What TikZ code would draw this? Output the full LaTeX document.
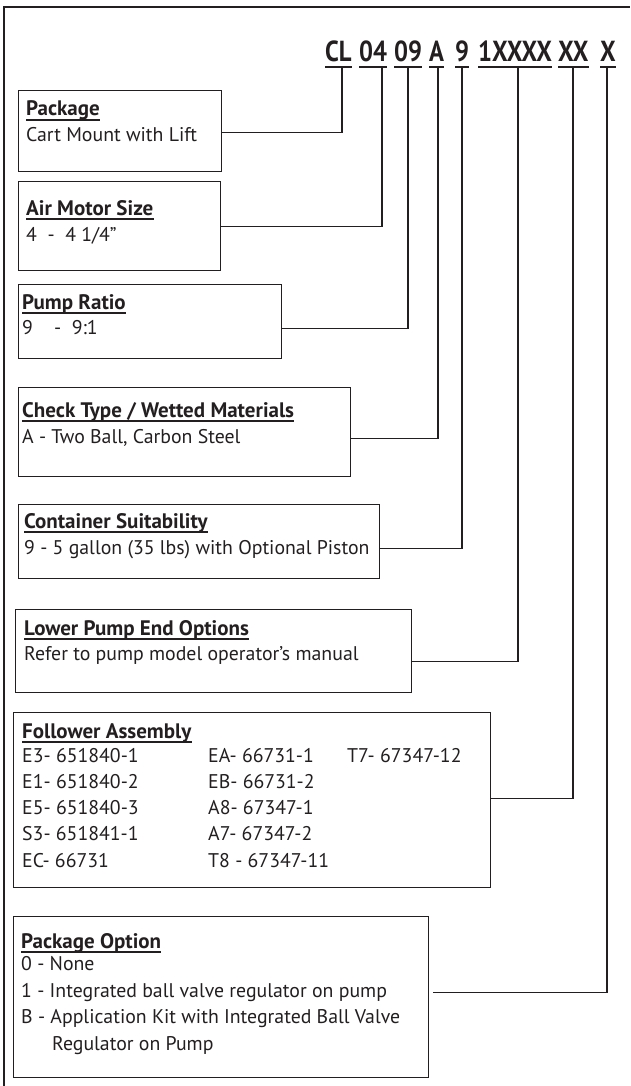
\documentclass[tikz,border=0pt]{standalone}
\usepackage{fontspec}
\setmainfont{PT Sans}
\newfontfamily\condfont[FakeStretch=0.85]{PT Sans}
\definecolor{ink}{RGB}{35,31,32}
\tikzset{
  box/.style={draw=ink, line width=1.1pt, anchor=north west, inner sep=0pt},
  title/.style={anchor=base west, inner sep=0pt, text=ink, font=\bfseries\fontsize{21}{25}\selectfont},
  body/.style={anchor=base west, inner sep=0pt, text=ink, font=\fontsize{19.8}{23}\selectfont},
  code/.style={anchor=base west, inner sep=0pt, text=ink, font=\condfont\bfseries\fontsize{29}{32}\selectfont},
  link/.style={draw=ink, line width=1.1pt},
  uline/.style={draw=ink, line width=1.9pt},
}
\begin{document}
\begin{tikzpicture}[x=1pt,y=-1pt]
  \useasboundingbox (0,0) rectangle (630,1086);
  % frame
  \draw[ink, line width=2pt] (4,1086) -- (4,7) -- (630,7);
  % model code
  \node[code] (cCL) at (325,62) {CL};
  \node[code] (c04) at (359,62) {04};
  \node[code] (c09) at (394,62) {09};
  \node[code] (cA) at (429,62) {A};
  \node[code] (c9) at (455,62) {9};
  \node[code] (cX4) at (478,62) {1XXXX};
  \node[code] (cXX) at (558,62) {XX};
  \node[code] (cX) at (600,62) {X};
  \foreach \n in {cCL,c04,c09,cA,c9,cX4,cXX,cX}
    \draw[uline, line width=1.5pt] ([yshift=-5pt]\n.base west) -- ([yshift=-5pt]\n.base east);
  \coordinate (tCL) at (342,68);
  \coordinate (t04) at (382,68);
  \coordinate (t09) at (408,68);
  \coordinate (tA) at (438,68);
  \coordinate (t9) at (462,68);
  \coordinate (tX4) at (518,68);
  \coordinate (tXX) at (573,68);
  \coordinate (tX) at (607,68);
  % boxes
  \node[box, minimum width=203, minimum height=81] (pkgbox) at (18,90) {};
  \node[title] (pkgt) at (26,116) {Package};
  \node[body] (pkgb) at (26,142) {Cart Mount with Lift};
  \node[box, minimum width=202, minimum height=89] (airbox) at (18,181) {};
  \node[title] (airt) at (26,215) {Air Motor Size};
  \node[body] (airb) at (26,241) {4\ \ -\ \ 4 1/4”};
  \node[box, minimum width=263, minimum height=74] (ratbox) at (18,284) {};
  \node[title] (ratt) at (22,309) {Pump Ratio};
  \node[body] (ratb) at (22,334) {9\ \ \ \ -\ \ 9:1};
  \node[box, minimum width=332, minimum height=89] (chkbox) at (18,387) {};
  \node[title] (chkt) at (22,417) {Check Type / Wetted Materials};
  \node[body] (chkb) at (22,443) {A - Two Ball, Carbon Steel};
  \node[box, minimum width=361, minimum height=74] (conbox) at (18,504) {};
  \node[title] (cont) at (24,528) {Container Suitability};
  \node[body] (conb) at (24,554) {9 - 5 gallon (35 lbs) with Optional Piston};
  \node[box, minimum width=396, minimum height=83] (lowbox) at (15,609) {};
  \node[title] (lowt) at (24,635) {Lower Pump End Options};
  \node[body] (lowb) at (24,660) {Refer to pump model operator’s manual};
  \node[box, minimum width=477, minimum height=175] (folbox) at (13,712) {};
  \node[title] (folt) at (22,738) {Follower Assembly};
  \foreach \txt [count=\i] in {E3- 651840-1, E1- 651840-2, E5- 651840-3, S3- 651841-1, EC- 66731}
    \node[body] (folA\i) at (22,{736+26.2*\i}) {\txt};
  \foreach \txt [count=\i] in {EA- 66731-1, EB- 66731-2, A8- 67347-1, A7- 67347-2, T8 - 67347-11}
    \node[body] (folB\i) at (208,{736+26.2*\i}) {\txt};
  \node[body] (folC1) at (347,762.2) {T7- 67347-12};
  \node[box, minimum width=415, minimum height=161] (optbox) at (13,916) {};
  \node[title] (optt) at (21,948) {Package Option};
  \node[body] (opt1) at (21,970) {0 - None};
  \node[body] (opt2) at (21,997) {1 - Integrated ball valve regulator on pump};
  \node[body] (opt3) at (21,1023) {B - Application Kit with Integrated Ball Valve};
  \node[body] (opt4) at (52,1050) {Regulator on Pump};
  \foreach \n in {pkgt,airt,ratt,chkt,cont,lowt,folt,optt}
    \draw[uline] ([yshift=-4pt]\n.base west) -- ([yshift=-4pt]\n.base east);
  % connectors
  \draw[link] ([yshift=-1.5pt]pkgbox.east) -| (tCL);
  \draw[link] (airbox.east) -| (t04);
  \draw[link] ([yshift=-7pt]ratbox.east) -| (t09);
  \draw[link] ([yshift=-6.5pt]chkbox.east) -| (tA);
  \draw[link] ([yshift=-7pt]conbox.east) -| (t9);
  \draw[link] ([yshift=-10.5pt]lowbox.east) -| (tX4);
  \draw[link] ([yshift=1.5pt]folbox.east) -| (tXX);
  \draw[link] ([xshift=4pt,yshift=4.5pt]optbox.east) -| (tX);
\end{tikzpicture}
\end{document}
